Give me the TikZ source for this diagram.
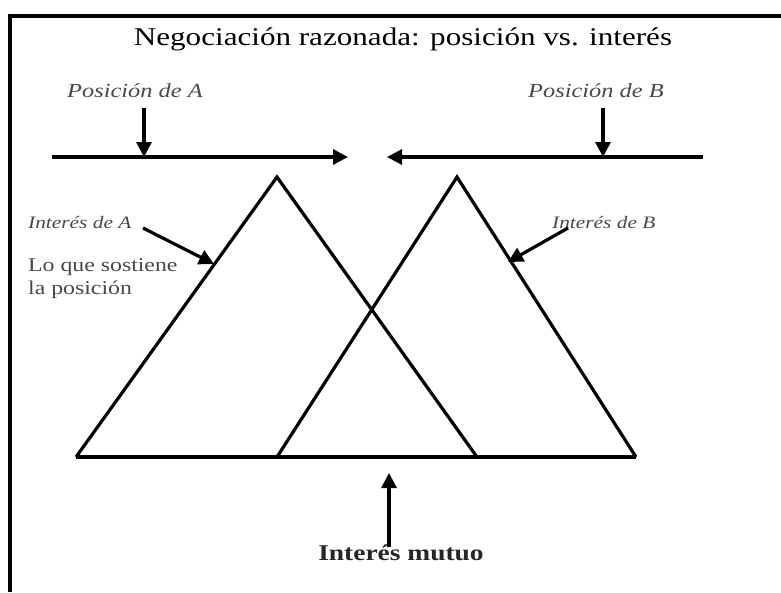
\documentclass[tikz,border=0pt]{standalone}
\usepackage{fontspec}
\setmainfont{Liberation Serif}
\newfontfamily\gar[FakeStretch=1.22]{Liberation Serif}
\usetikzlibrary{arrows.meta}
\definecolor{labgray}{HTML}{484848}
\begin{document}
\begin{tikzpicture}[x=1pt,y=-1pt,
  thick line/.style={line width=3.2pt},
  arr/.style={line width=3.2pt,-{Triangle[length=15pt,width=15pt]}},
  lab/.style={inner sep=0pt,anchor=base,text=labgray},
  frameline/.style={line width=3.4pt}]
\useasboundingbox (0,0) rectangle (781,592);
% frame
\draw[frameline] (781,16) -- (10,16) -- (10,592);
% title
\node[inner sep=0pt,anchor=base] (title) at (403,45) {\gar\fontsize{25.5}{30}\selectfont Negociación razonada: posición vs. interés};
% position labels
\node[lab] (posA) at (135,97) {\gar\fontsize{20}{24}\selectfont\itshape Posición de A};
\node[lab] (posB) at (596,97) {\gar\fontsize{20}{24}\selectfont\itshape Posición de B};
% interest labels
\node[lab,anchor=base west] (intA) at (28,228) {\gar\fontsize{17.5}{20}\selectfont\itshape Interés de A};
\node[lab,anchor=base west] (intB) at (552,228) {\gar\fontsize{17.5}{20}\selectfont\itshape Interés de B};
\node[lab,anchor=base west] (lo1) at (28,271) {\gar\fontsize{19.5}{22}\selectfont Lo que sostiene};
\node[lab,anchor=base west] (lo2) at (28,294) {\gar\fontsize{19.5}{22}\selectfont la posición};
\node[inner sep=0pt,anchor=base,text=black!85] (mutuo) at (401,560) {\gar\fontsize{22.5}{26}\selectfont\bfseries Interés mutuo};
% coordinates
\coordinate (pAtop) at (144,108);
\coordinate (pAbot) at (144,157);
\coordinate (pBtop) at (603,108);
\coordinate (pBbot) at (603,157);
\coordinate (hLs) at (52,157);
\coordinate (hLe) at (348,157);
\coordinate (hRs) at (703,157);
\coordinate (hRe) at (387,157);
\coordinate (iAs) at (143,228);
\coordinate (iAe) at (214,264);
\coordinate (iBs) at (568,228);
\coordinate (iBe) at (508,262);
\coordinate (mS) at (389,547);
\coordinate (mE) at (389,473);
% triangles
\coordinate (A1) at (76,457);
\coordinate (A2) at (277,177);
\coordinate (A3) at (477,457);
\coordinate (B1) at (277,457);
\coordinate (B2) at (457,177);
\coordinate (B3) at (636,457);
\draw[thick line] (A1) -- (A2) -- (A3);
\draw[thick line] (B1) -- (B2) -- (B3);
\draw[thick line] (A1) -- (B3);
% arrows
\draw[arr] (hLs) -- (hLe);
\draw[arr] (hRs) -- (hRe);
\draw[arr] (pAtop) -- (pAbot);
\draw[arr] (pBtop) -- (pBbot);
\draw[arr] (iAs) -- (iAe);
\draw[arr] (iBs) -- (iBe);
\draw[arr] (mS) -- (mE);
\end{tikzpicture}
\end{document}
